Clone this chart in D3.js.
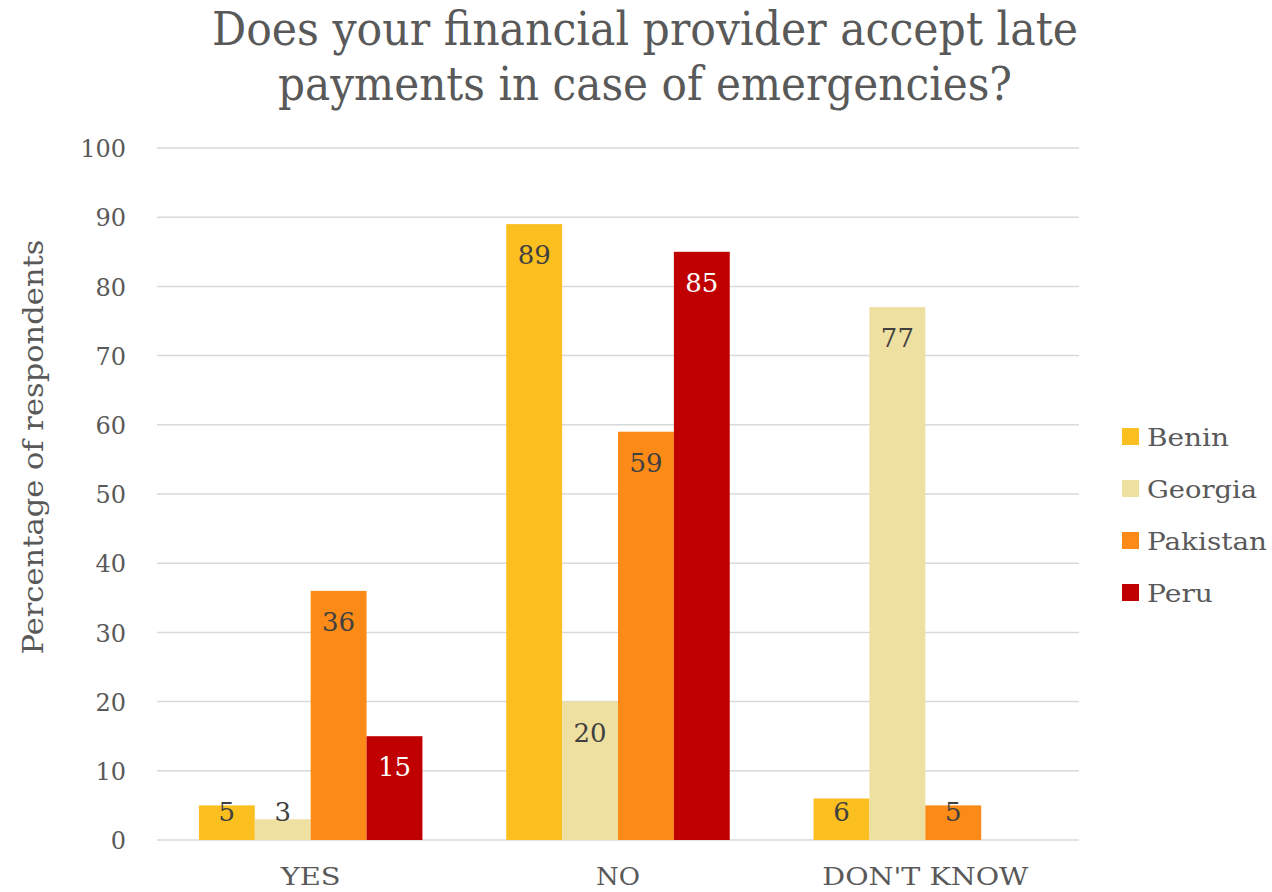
<!DOCTYPE html>
<html>
<head>
<meta charset="utf-8">
<script src="https://cdn.jsdelivr.net/npm/d3@7/dist/d3.min.js"></script>
<style>
  html, body { margin: 0; padding: 0; background: #ffffff; }
  svg { display: block; font-family: "DejaVu Serif", "Liberation Serif", serif; }
</style>
</head>
<body>
<svg id="chart" width="1272" height="892"></svg>
<script>
// Survey answers (percentage of respondents) by country
const categories = ["YES", "NO", "DON'T KNOW"];
const seriesNames = ["Benin", "Georgia", "Pakistan", "Peru"];
const benin = [5, 89, 6];
const georgia = [3, 20, 77];
const pakistan = [36, 59, 5];
const peru = [15, 85, null];
const yTicks = [0, 10, 20, 30, 40, 50, 60, 70, 80, 90, 100];
const titleLines = ["Does your financial provider accept late", "payments in case of emergencies?"];
const yAxisTitle = "Percentage of respondents";

const seriesValues = [benin, georgia, pakistan, peru];
const colors = ["#FBBF1F", "#EEE0A0", "#FB8A17", "#C00000"];
const labelColors = ["#404040", "#404040", "#404040", "#ffffff"];

const svg = d3.select("#chart");
const textGray = "#595959";

const plot = { left: 157, right: 1079, top: 148, bottom: 840 };

const y = d3.scaleLinear().domain([0, 100]).range([plot.bottom, plot.top]);
const x0 = d3.scaleBand().domain(categories).range([plot.left, plot.right]).padding(0);
// gap width of 150% of one bar
const barW = x0.bandwidth() / (seriesNames.length + 1.5);
const x1 = d3.scaleBand().domain(seriesNames)
  .range([0.75 * barW, 0.75 * barW + barW * seriesNames.length]).padding(0);

// Title
svg.append("g").selectAll("text")
  .data(titleLines)
  .join("text")
  .attr("x", 645)
  .attr("y", (d, i) => 45 + i * 55)
  .attr("text-anchor", "middle")
  .attr("fill", textGray)
  .attr("font-size", 47)
  .attr("textLength", (d, i) => i === 0 ? 866 : 734)
  .attr("lengthAdjust", "spacingAndGlyphs")
  .text(d => d);

// Gridlines
svg.append("g").selectAll("line")
  .data(yTicks)
  .join("line")
  .attr("x1", plot.left)
  .attr("x2", plot.right)
  .attr("y1", d => y(d))
  .attr("y2", d => y(d))
  .attr("stroke", "#d9d9d9")
  .attr("stroke-width", 1.5);

// Y axis tick labels
const yAxis = d3.axisLeft(y).tickValues(yTicks).tickSize(0).tickPadding(0);
const yG = svg.append("g").attr("transform", `translate(126,0)`).call(yAxis);
yG.select(".domain").remove();
yG.selectAll("text")
  .attr("font-family", "DejaVu Serif, serif")
  .attr("font-size", 24)
  .attr("fill", textGray)
  .attr("dy", "0.36em");

// Y axis title
svg.append("text")
  .attr("transform", "translate(43,447) rotate(-90)")
  .attr("text-anchor", "middle")
  .attr("fill", textGray)
  .attr("font-size", 27)
  .attr("textLength", 415)
  .attr("lengthAdjust", "spacingAndGlyphs")
  .text(yAxisTitle);

// Category axis labels
const xAxis = d3.axisBottom(x0).tickSize(0).tickPadding(0);
const xG = svg.append("g").attr("transform", `translate(0,${plot.bottom})`).call(xAxis);
xG.select(".domain").remove();
xG.selectAll("text")
  .attr("font-family", "DejaVu Serif, serif")
  .attr("font-size", 25)
  .attr("fill", textGray)
  .attr("dy", 0)
  .attr("y", 45)
  .attr("textLength", d => d === "YES" ? 60 : d === "NO" ? 44 : 206)
  .attr("lengthAdjust", "spacingAndGlyphs");

// Bars
const barData = [];
categories.forEach((c, ci) => {
  seriesNames.forEach((s, si) => {
    const v = seriesValues[si][ci];
    if (v !== null && v !== undefined) barData.push({ c, s, si, v });
  });
});

const barsG = svg.append("g");
barsG.selectAll("rect")
  .data(barData)
  .join("rect")
  .attr("x", d => x0(d.c) + x1(d.s))
  .attr("y", d => y(d.v))
  .attr("width", x1.bandwidth())
  .attr("height", d => y(0) - y(d.v))
  .attr("fill", d => colors[d.si]);

// Value labels, inside end of each bar
barsG.selectAll("text")
  .data(barData)
  .join("text")
  .attr("x", d => x0(d.c) + x1(d.s) + x1.bandwidth() / 2)
  .attr("y", d => Math.min(y(d.v) + 31, y(0) - 28) + 9)
  .attr("text-anchor", "middle")
  .attr("font-size", 26)
  .attr("fill", d => labelColors[d.si])
  .text(d => d.v);

// Legend
const legend = svg.append("g").selectAll("g")
  .data(seriesNames)
  .join("g")
  .attr("transform", (d, i) => `translate(1122,${436 + i * 52})`);
legend.append("rect")
  .attr("x", 0).attr("y", -8)
  .attr("width", 17).attr("height", 17)
  .attr("fill", (d, i) => colors[i]);
legend.append("text")
  .attr("x", 25)
  .attr("y", 10)
  .attr("font-size", 25)
  .attr("fill", textGray)
  .attr("textLength", d => ({ Benin: 82, Georgia: 110, Pakistan: 120, Peru: 66 })[d])
  .attr("lengthAdjust", "spacingAndGlyphs")
  .text(d => d);
</script>
</body>
</html>
